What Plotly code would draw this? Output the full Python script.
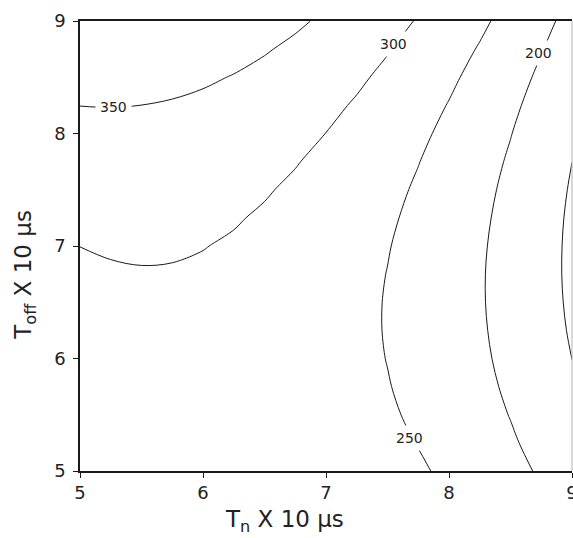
import plotly.graph_objects as go

# Response surface (T_on along x, T_off along y), step 0.25
t_on = [5.0, 5.25, 5.5, 5.75, 6.0, 6.25, 6.5, 6.75, 7.0, 7.25, 7.5, 7.75, 8.0, 8.25, 8.5, 8.75, 9.0]
t_off = [5.0, 5.25, 5.5, 5.75, 6.0, 6.25, 6.5, 6.75, 7.0, 7.25, 7.5, 7.75, 8.0, 8.25, 8.5, 8.75, 9.0]
response = [
    [282.7, 288.5, 292.7, 295.1, 295.9, 295.1, 292.6, 288.4, 282.6, 275.1, 265.9, 255.1, 242.6, 228.4, 212.6, 195.1, 176.0],
    [280.7, 286.1, 289.9, 291.9, 292.3, 291.1, 288.2, 283.6, 277.4, 269.5, 259.9, 248.7, 235.8, 221.2, 205.0, 187.1, 167.6],
    [279.9, 284.9, 288.3, 289.9, 289.9, 288.3, 285.0, 280.0, 273.4, 265.1, 255.1, 243.5, 230.3, 215.3, 198.7, 180.4, 160.5],
    [280.3, 284.9, 287.9, 289.1, 288.7, 286.7, 283.0, 277.6, 270.6, 262.0, 251.6, 239.6, 225.9, 210.5, 193.5, 174.8, 154.5],
    [281.8, 286.1, 288.7, 289.5, 288.7, 286.3, 282.2, 276.4, 269.1, 260.0, 249.2, 236.8, 222.7, 206.9, 189.5, 170.5, 149.8],
    [284.6, 288.5, 290.7, 291.1, 289.9, 287.1, 282.6, 276.5, 268.7, 259.2, 248.0, 235.2, 220.7, 204.6, 186.8, 167.3, 146.2],
    [288.6, 292.1, 293.9, 293.9, 292.3, 289.1, 284.3, 277.7, 269.5, 259.6, 248.0, 234.9, 220.0, 203.4, 185.2, 165.3, 143.9],
    [293.8, 296.9, 298.3, 297.9, 295.9, 292.4, 287.1, 280.1, 271.5, 261.3, 249.3, 235.7, 220.4, 203.4, 184.9, 164.6, 142.7],
    [300.2, 302.9, 303.8, 303.1, 300.8, 296.8, 291.1, 283.7, 274.7, 264.1, 251.7, 237.7, 222.1, 204.7, 185.7, 165.1, 142.8],
    [307.8, 310.1, 310.7, 309.6, 306.8, 302.4, 296.3, 288.6, 279.2, 268.1, 255.4, 241.0, 224.9, 207.2, 187.8, 166.7, 144.0],
    [316.6, 318.5, 318.7, 317.2, 314.0, 309.2, 302.7, 294.6, 284.8, 273.3, 260.2, 245.4, 228.9, 210.8, 191.0, 169.6, 146.5],
    [326.7, 328.1, 327.9, 326.0, 322.4, 317.2, 310.4, 301.8, 291.6, 279.8, 266.2, 251.0, 234.2, 215.7, 195.5, 173.7, 150.1],
    [337.9, 338.9, 338.3, 336.0, 332.1, 326.5, 319.2, 310.3, 299.7, 287.4, 273.5, 257.9, 240.6, 221.7, 201.2, 178.9, 155.0],
    [350.3, 350.9, 349.9, 347.2, 342.9, 336.9, 329.2, 319.9, 308.9, 296.2, 281.9, 265.9, 248.3, 229.0, 208.0, 185.4, 161.1],
    [363.9, 364.1, 362.7, 359.7, 354.9, 348.5, 340.5, 330.7, 319.3, 306.3, 291.6, 275.2, 257.2, 237.4, 216.1, 193.0, 168.3],
    [378.7, 378.6, 376.8, 373.3, 368.2, 361.4, 352.9, 342.8, 331.0, 317.5, 302.4, 285.7, 267.2, 247.1, 225.3, 201.9, 176.8],
    [394.7, 394.2, 392.0, 388.1, 382.6, 375.4, 366.5, 356.0, 343.8, 330.0, 314.5, 297.3, 278.5, 258.0, 235.8, 212.0, 186.5],
]
contour_levels = [150, 200, 250, 300, 350]
label_levels = [350, 300, 200, 250]
x_ticks = [5, 6, 7, 8, 9]
y_ticks = [5, 6, 7, 8, 9]

# label placement (layout only)
label_positions = [(5.275, 8.235), (7.545, 8.80), (8.73, 8.72), (7.68, 5.29)]

FONT = "DejaVu Sans"
INK = "#1a1a1a"

fig = go.Figure()
fig.add_trace(go.Contour(
    x=t_on, y=t_off, z=response, showscale=False, hoverinfo="skip",
    contours=dict(coloring="none", start=contour_levels[0], end=contour_levels[-1],
                  size=contour_levels[1] - contour_levels[0], showlabels=False),
    line=dict(color=INK, width=1, smoothing=1.0),
))

for lvl, (lx, ly) in zip(label_levels, label_positions):
    fig.add_annotation(x=lx, y=ly, text=str(lvl), showarrow=False,
                       font=dict(family=FONT, size=14, color="#222222"),
                       bgcolor="white", borderpad=4, xanchor="center", yanchor="middle")

fig.add_annotation(xref="paper", yref="paper", x=0.415, y=-0.112,
                   text="T<sub>n</sub> X 10 µs", showarrow=False,
                   font=dict(family=FONT, size=23, color="#222222"),
                   xanchor="center", yanchor="middle")
fig.add_annotation(xref="paper", yref="paper", x=-0.112, y=0.436,
                   text="T<sub>off</sub> X 10 µs", showarrow=False, textangle=-90,
                   font=dict(family=FONT, size=23, color="#222222"),
                   xanchor="center", yanchor="middle")

# faint right-hand frame edge
fig.add_shape(type="line", xref="paper", yref="paper", x0=1, x1=1, y0=0, y1=1,
              line=dict(color="#b0b0b0", width=1))

fig.update_layout(
    width=573, height=538,
    margin=dict(l=80, r=1, t=21, b=67, autoexpand=False),
    plot_bgcolor="white", paper_bgcolor="white",
    showlegend=False,
)
axis_common = dict(
    range=[5, 9], showline=True, linecolor=INK, linewidth=1.5, automargin=False,
    showgrid=False, zeroline=False, ticks="outside", ticklen=5, tickwidth=1,
    tickcolor=INK, tickfont=dict(family=FONT, size=18, color="#222222"),
)
fig.update_xaxes(tickvals=x_ticks, mirror=True, ticklabeloverflow="allow", **axis_common)
fig.update_yaxes(tickvals=y_ticks, mirror=False, ticklabelstandoff=4, **axis_common)

fig.write_html("out.html")
